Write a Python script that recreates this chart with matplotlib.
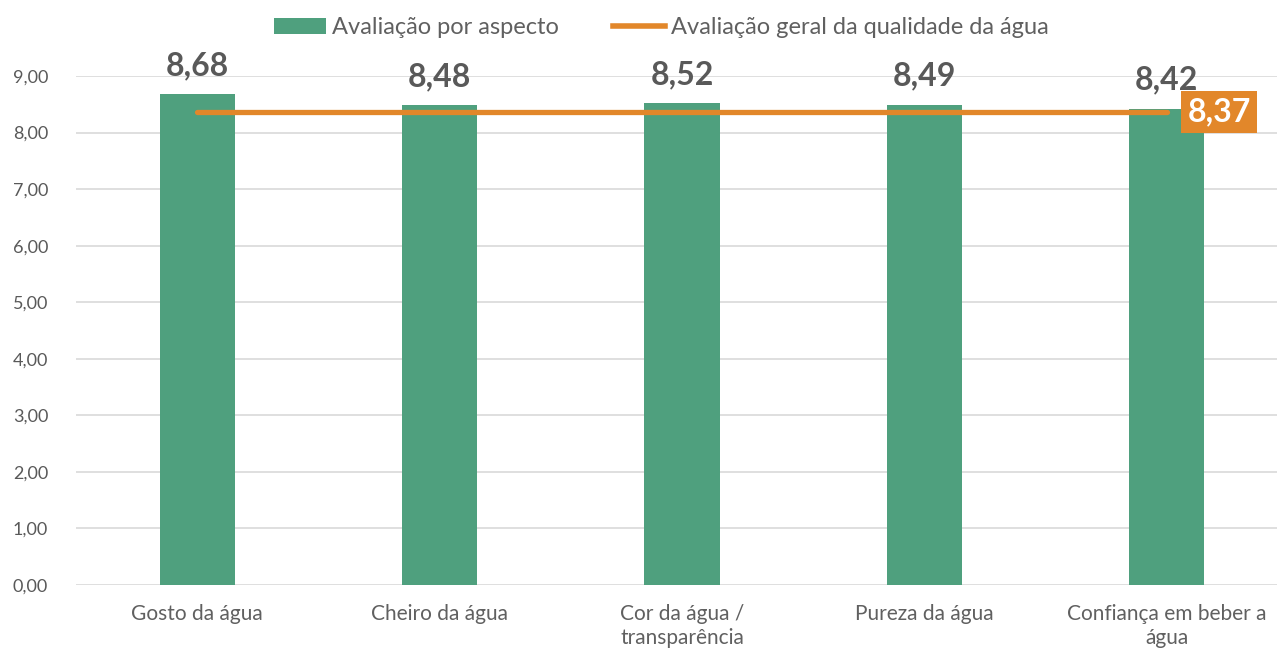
import matplotlib
matplotlib.use("Agg")
import matplotlib.pyplot as plt
from matplotlib.patches import Patch
from matplotlib.lines import Line2D

categories = ["Gosto da água", "Cheiro da água", "Cor da água /\ntransparência",
              "Pureza da água", "Confiança em beber a\nágua"]
values = [8.68, 8.48, 8.52, 8.49, 8.42]
overall = 8.37
yticks = [0, 1, 2, 3, 4, 5, 6, 7, 8, 9]

green = "#4FA07E"
orange = "#E2872A"
dark = "#595959"

plt.rcParams['font.family'] = ['Lato', 'DejaVu Sans']

fig = plt.figure(figsize=(12.77, 6.49), dpi=100)
ax = fig.add_axes([76 / 1277, 64 / 649, 1212 / 1277, 509 / 649])

x = list(range(len(categories)))
ax.bar(x, values, width=0.31, color=green, zorder=2)
ax.plot([x[0], x[-1]], [overall, overall], color=orange, linewidth=3.8,
        solid_capstyle='round', zorder=3)

for xi, v in zip(x, values):
    ax.text(xi, v + 0.25, f"{v:.2f}".replace(".", ","), ha='center', va='bottom',
            fontsize=23, fontweight='bold', color=dark, zorder=4)

ax.text(x[-1] + 0.085, overall, f"{overall:.2f}".replace(".", ","), ha='left', va='center',
        fontsize=23, fontweight='bold', color='white', zorder=5,
        bbox=dict(boxstyle='square,pad=0.2', facecolor=orange, edgecolor='none'))

ax.set_xlim(-0.5, len(categories) - 0.5)
ax.set_ylim(0, 9)
ax.set_yticks(yticks)
ax.set_yticklabels([f"{t:.2f}".replace(".", ",") for t in yticks], fontsize=13, color=dark)
ax.set_xticks(x)
ax.set_xticklabels(categories, fontsize=15, color='#606060', linespacing=1.2)
ax.tick_params(axis='both', length=0)
ax.tick_params(axis='x', pad=14)
ax.tick_params(axis='y', pad=20)
ax.grid(axis='y', color='#D9D9D9', linewidth=1.2, zorder=0)
ax.set_axisbelow(True)
for s in ax.spines.values():
    s.set_visible(False)

handles = [Patch(facecolor=green, edgecolor='none'),
           Line2D([0], [0], color=orange, linewidth=4)]
leg = fig.legend(handles, ["Avaliação por aspecto", "Avaliação geral da qualidade da água"],
                 loc='upper center', bbox_to_anchor=(0.518, 1.006), ncol=2, frameon=False,
                 handlelength=2.2, handletextpad=0.25, columnspacing=2.3,
                 prop={'size': 17})
for t in leg.get_texts():
    t.set_color('#606060')

fig.savefig("out.png", dpi=100)
